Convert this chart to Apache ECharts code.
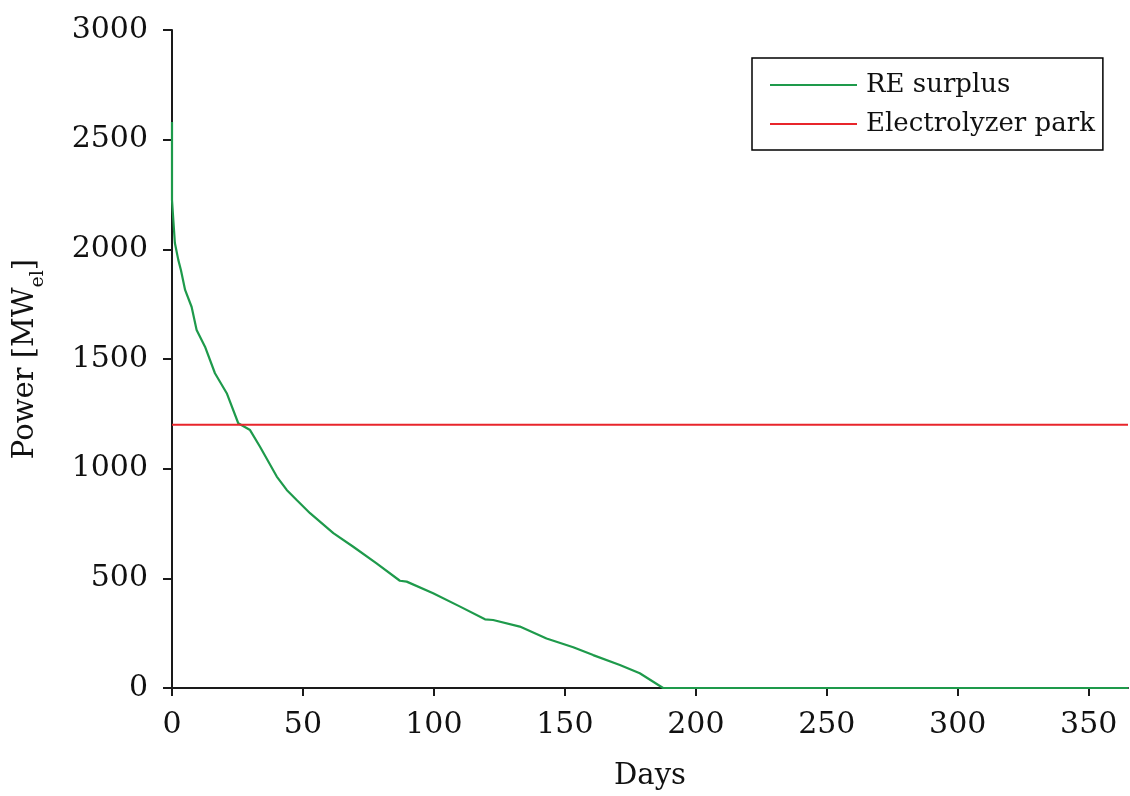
<!DOCTYPE html>
<html>
<head>
<meta charset="utf-8">
<script src="https://cdn.jsdelivr.net/npm/echarts@6/dist/echarts.min.js"></script>
<style>
  html, body { margin: 0; padding: 0; background: #fff; }
  #main { width: 1130px; height: 796px; }
</style>
</head>
<body>
<div id="main"></div>
<script>
// duration curve of the RE surplus
var surplusDays = [0, 0, 0.5, 1.1, 2.4, 3.4, 5, 7.5, 9.4, 12.6, 16.4, 20.9, 25.3, 29.8, 33.6, 40, 43.8, 47.6, 52.7, 61.6, 69.2, 78.1, 87, 89.6, 99.7, 110, 119.5, 122.6, 132.8, 143, 153.2, 160.8, 171, 178.6, 187.5, 365];
var surplusPower = [2580, 2225, 2134, 2029, 1952, 1906, 1815, 1737, 1632, 1556, 1435, 1344, 1207, 1176, 1100, 964, 903, 857, 797, 706, 644, 568, 489, 485, 432, 371, 313, 310, 280, 226, 186, 150, 105, 67, 0, 0];

// installed electrolyzer capacity
var parkDays = [0, 365];
var parkPower = [1200, 1200];

var xTicks = [0, 50, 100, 150, 200, 250, 300, 350];
var yTicks = [0, 500, 1000, 1500, 2000, 2500, 3000];

function pairs(xs, ys) {
  var out = [];
  for (var i = 0; i < xs.length; i++) out.push([xs[i], ys[i]]);
  return out;
}

var chart = echarts.init(document.getElementById('main'));
var font = 'DejaVu Serif';
var axisColor = '#1a1a1a';

var option = {
  animation: false,
  backgroundColor: '#fff',
  textStyle: { fontFamily: font, color: '#111' },
  grid: { left: 172, right: 2, top: 30, bottom: 108, outerBoundsMode: 'none', containLabel: false },
  legend: {
    orient: 'vertical',
    left: 752,
    top: 58,
    align: 'left',
    padding: [12, 8, 11, 18],
    borderColor: '#000',
    borderWidth: 1.5,
    icon: 'rect',
    itemWidth: 87,
    itemHeight: 2,
    itemGap: 9,
    textStyle: { fontFamily: font, fontSize: 26, lineHeight: 30, color: '#111', padding: [0, 0, 0, 4] },
    data: ['RE surplus', 'Electrolyzer park']
  },
  xAxis: {
    type: 'value',
    min: 0,
    max: 365,
    interval: 50,
    name: 'Days',
    nameLocation: 'middle',
    nameGap: 74,
    nameTextStyle: { fontFamily: font, fontSize: 29, color: '#111' },
    axisLine: { show: true, onZero: false, lineStyle: { color: axisColor, width: 2 } },
    axisTick: { show: true, length: 8, lineStyle: { color: axisColor, width: 2 }, customValues: xTicks },
    axisLabel: { fontFamily: font, fontSize: 30, color: '#111', margin: 22, customValues: xTicks, formatter: function (v) { return String(v); } },
    splitLine: { show: false }
  },
  yAxis: {
    type: 'value',
    min: 0,
    max: 3000,
    interval: 500,
    name: 'Power [MW{sub|el}]',
    nameLocation: 'middle',
    nameGap: 124,
    nameTextStyle: {
      fontFamily: font, fontSize: 29, color: '#111',
      rich: { sub: { fontFamily: font, fontSize: 19, color: '#111', verticalAlign: 'bottom', padding: [26, 0, 0, 0] } }
    },
    axisLine: { show: true, lineStyle: { color: axisColor, width: 2 } },
    axisTick: { show: true, length: 9, lineStyle: { color: axisColor, width: 2 }, customValues: yTicks },
    axisLabel: { fontFamily: font, fontSize: 30, color: '#111', margin: 24, customValues: yTicks, formatter: function (v) { return String(v); } },
    splitLine: { show: false }
  },
  series: [
    {
      name: 'RE surplus',
      type: 'line',
      data: pairs(surplusDays, surplusPower),
      symbol: 'none',
      lineStyle: { color: '#1e9a4b', width: 2.2 },
      itemStyle: { color: '#1e9a4b' }
    },
    {
      name: 'Electrolyzer park',
      type: 'line',
      data: pairs(parkDays, parkPower),
      symbol: 'none',
      lineStyle: { color: '#e8252b', width: 2 },
      itemStyle: { color: '#e8252b' }
    }
  ]
};

chart.setOption(option);
</script>
</body>
</html>
